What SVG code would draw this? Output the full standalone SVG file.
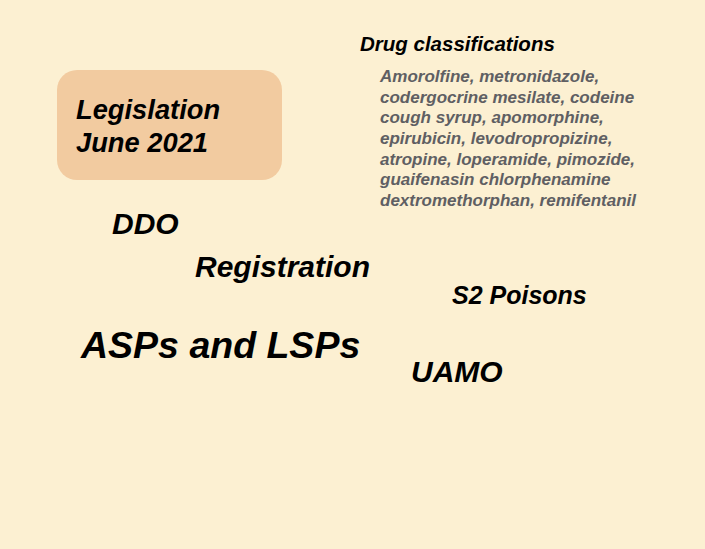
<svg xmlns="http://www.w3.org/2000/svg" width="705" height="549" viewBox="0 0 705 549">
<style>
text{font-family:"Liberation Sans",Arial,sans-serif;font-weight:bold;font-style:italic;fill:#000}
.drug{font-size:17px;fill:#5f5f63}
</style>
<rect x="0" y="0" width="705" height="549" fill="#fcf0d2"/>
<g id="legislation">
<rect x="57" y="70" width="225" height="110" rx="20" ry="20" fill="#f2cba0"/>
<text x="76" y="119" font-size="27.3">Legislation</text>
<text x="76" y="152" font-size="27.3">June 2021</text>
</g>
<g id="drug-classifications">
<text x="360" y="51" font-size="20.5">Drug classifications</text>
<text class="drug" x="380" y="82">Amorolfine, metronidazole,</text>
<text class="drug" x="380" y="102.7">codergocrine mesilate, codeine</text>
<text class="drug" x="380" y="123.3">cough syrup, apomorphine,</text>
<text class="drug" x="380" y="144">epirubicin, levodropropizine,</text>
<text class="drug" x="380" y="164.7">atropine, loperamide, pimozide,</text>
<text class="drug" x="380" y="185.3">guaifenasin chlorphenamine</text>
<text class="drug" x="380" y="206">dextromethorphan, remifentanil</text>
</g>
<g id="ddo"><text x="112" y="234" font-size="30">DDO</text></g>
<g id="registration"><text x="195" y="277" font-size="30">Registration</text></g>
<g id="s2-poisons"><text x="452" y="304" font-size="25">S2 Poisons</text></g>
<g id="asps-lsps"><text x="81" y="358" font-size="37.5">ASPs and LSPs</text></g>
<g id="uamo"><text x="411" y="382" font-size="30">UAMO</text></g>
<g id="connectors"></g>
</svg>
